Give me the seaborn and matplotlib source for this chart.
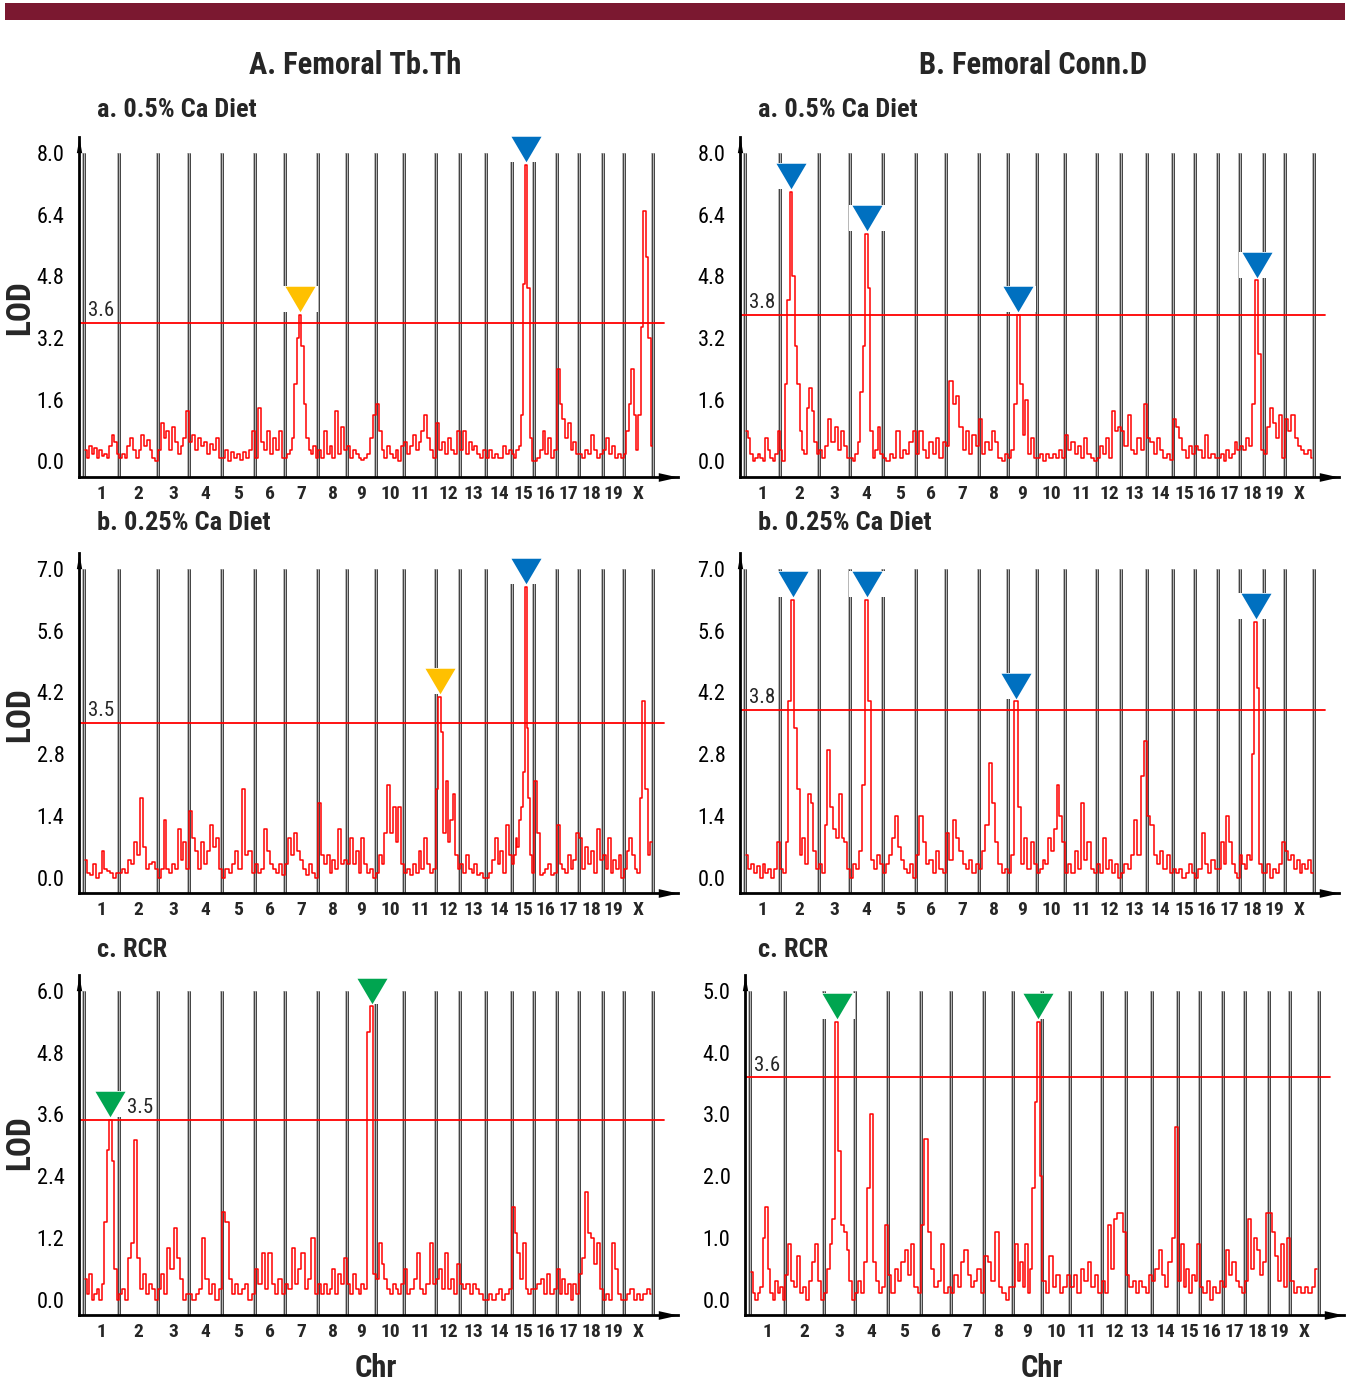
import numpy as np
import pandas as pd
import matplotlib.pyplot as plt
import matplotlib.font_manager as fm
import seaborn as sns
from matplotlib.patches import Rectangle
from matplotlib.transforms import offset_copy

sns.set_theme(style='white')


# ищем узкий шрифт, у которого есть жирное начертание
def num(v, table, default):
    return v if isinstance(v, (int, float)) else table.get(v, default)


fams = {}
for f in fm.fontManager.ttflist:
    st = num(f.stretch, fm.stretch_dict, 500)
    if 'Narrow' in f.name or 'Condensed' in f.name or st <= 400:
        fams.setdefault(f.name, set()).add(num(f.weight, fm.weight_dict, 400))
prefer = ['Liberation Sans Narrow', 'Arial Narrow', 'Roboto Condensed', 'Open Sans Condensed',
          'Noto Sans', 'Open Sans', 'Roboto', 'DejaVu Sans Condensed', 'DejaVu Sans']
good = [n for n in prefer if n in fams and max(fams[n]) >= 600]
good += sorted(n for n in fams if max(fams[n]) >= 600 and n not in good)
if good:
    FONT, K = good[0], 1.0
else:
    FONT, K = 'Liberation Sans', 0.84
plt.rcParams['font.family'] = [FONT, 'Liberation Sans', 'DejaVu Sans']
if good and 'Narrow' not in FONT and 'Condensed' not in FONT:
    plt.rcParams['font.stretch'] = 'condensed'

# хромосомы и их длины (cM, как на рисунке)
chroms = [str(i) for i in range(1, 20)] + ['X']
chrom_len = [105, 117, 93, 99, 99, 90, 99, 87, 87, 84, 96, 72, 78, 78, 66, 69, 66, 72, 63, 87]

# LOD по хромосомам
tbth_05 = [
    [0.3, 0.1, 0.4, 0.2, 0.35, 0.1, 0.3, 0.15, 0.2, 0.1, 0.4, 0.7, 0.5, 0.2],
    [0.1, 0.2, 0.1, 0.4, 0.6, 0.3, 0.1, 0.3, 0.7, 0.4, 0.55, 0.3, 0.1, 0.0],
    [0.3, 1.0, 0.6, 0.8, 0.3, 0.9, 0.5, 0.2, 0.4, 0.6, 1.3],
    [0.5, 0.7, 0.3, 0.6, 0.4, 0.5, 0.2, 0.45, 0.3, 0.6, 0.1],
    [0.1, 0.3, 0.0, 0.25, 0.1, 0.2, 0.05, 0.25, 0.1, 0.3, 0.8],
    [0.1, 1.4, 0.5, 0.3, 0.8, 0.2, 0.6, 0.3, 0.8, 0.1],
    [0.1, 0.2, 0.3, 0.6, 2.0, 3.2, 3.8, 3.0, 1.5, 0.6, 0.3, 0.2, 0.4, 0.1],
    [0.3, 0.1, 0.8, 0.2, 0.4, 0.1, 1.3, 0.2, 0.9, 0.3],
    [0.4, 0.1, 0.3, 0.2, 0.1, 0.05, 0.1, 0.2, 0.6, 1.2],
    [1.5, 0.8, 0.3, 0.1, 0.4, 0.2, 0.1, 0.3, 0.0, 0.4],
    [0.5, 0.2, 0.4, 0.7, 0.3, 0.5, 0.8, 1.2, 0.6, 0.3, 0.1],
    [1.0, 0.3, 0.5, 0.2, 0.6, 0.3, 0.2, 0.8],
    [0.3, 0.8, 0.2, 0.5, 0.3, 0.4, 0.2, 0.1, 0.3],
    [0.1, 0.3, 0.1, 0.2, 0.1, 0.1, 0.4, 0.2, 0.3],
    [0.2, 0.1, 0.3, 0.4, 1.2, 4.6, 7.7, 4.5, 0.6, 0.0],
    [0.0, 0.1, 0.3, 0.8, 0.2, 0.6, 0.1, 0.3],
    [2.4, 1.5, 1.1, 0.6, 1.0, 0.3, 0.5, 0.2],
    [0.2, 0.1, 0.3, 0.2, 0.7, 0.3, 0.1, 0.2],
    [0.3, 0.6, 0.2, 0.4, 0.1, 0.2, 0.1],
    [0.2, 0.8, 1.5, 2.4, 1.2, 0.3, 1.2, 3.5, 6.5, 5.3, 3.2, 0.4],
]

tbth_025 = [
    [0.4, 0.1, 0.05, 0.3, 0.0, 0.1, 0.6, 0.2, 0.15, 0.1, 0.0, 0.1],
    [0.1, 0.2, 0.1, 0.4, 0.3, 0.8, 0.5, 1.8, 0.7, 0.2, 0.3, 0.35, 0.2],
    [0.0, 0.2, 1.3, 0.2, 0.1, 0.3, 0.2, 1.1, 0.4, 0.8, 0.2],
    [1.5, 0.9, 0.6, 0.2, 0.8, 0.3, 0.6, 1.2, 0.7, 0.9, 0.2],
    [0.0, 0.2, 0.1, 0.3, 0.6, 0.2, 2.0, 0.5, 0.6, 0.1],
    [0.3, 0.1, 0.2, 1.1, 0.6, 0.3, 0.2, 0.1, 0.3, 0.05],
    [0.3, 0.9, 0.5, 1.0, 0.6, 0.4, 0.2, 0.05, 0.3, 0.1, 0.0],
    [1.7, 0.5, 0.3, 0.5, 0.1, 0.4, 0.2, 1.1, 0.3, 0.4],
    [0.3, 0.9, 0.3, 0.6, 0.1, 0.9, 0.3, 0.1, 0.2, 0.0],
    [0.1, 0.5, 0.3, 1.0, 2.1, 1.0, 1.6, 0.8, 1.6, 0.3],
    [0.1, 0.2, 0.05, 0.3, 0.1, 0.6, 0.2, 0.9, 0.3, 0.1, 0.2],
    [2.0, 4.1, 3.3, 1.0, 2.2, 0.8, 1.3, 1.9, 0.5, 0.2],
    [0.3, 0.1, 0.5, 0.2, 0.1, 0.3, 0.05, 0.1, 0.0],
    [0.0, 0.1, 0.4, 0.9, 0.3, 0.6, 0.1, 1.2, 0.5],
    [0.3, 0.5, 0.9, 0.7, 1.3, 1.6, 2.4, 6.6, 3.4, 1.8, 0.5, 0.1],
    [2.2, 1.0, 0.05, 0.1, 0.2, 0.3, 0.05, 0.1],
    [1.2, 0.3, 0.2, 0.1, 0.5, 0.2, 0.4, 1.0],
    [0.9, 0.2, 0.7, 0.3, 0.6, 0.1, 1.1, 0.4],
    [0.5, 0.2, 0.9, 0.1, 0.4, 0.2, 0.5, 0.0],
    [0.2, 0.6, 0.9, 0.5, 0.2, 0.1, 1.8, 4.0, 2.0, 0.5, 0.8],
]

tbth_rcr = [
    [0.4, 0.1, 0.5, 0.0, 0.1, 0.2, 0.0, 0.3, 1.5, 2.9, 3.5, 2.7, 0.6, 0.0],
    [0.1, 0.2, 0.0, 0.8, 1.1, 3.1, 0.8, 0.2, 0.5, 0.1, 0.3, 0.2, 0.0],
    [0.2, 0.5, 0.1, 1.0, 0.6, 1.4, 0.8, 0.4, 0.0, 0.1],
    [0.1, 0.0, 0.1, 0.2, 1.2, 0.4, 0.1, 0.3, 0.0, 0.2],
    [1.7, 1.5, 0.4, 0.1, 0.3, 0.1, 0.2, 0.3, 0.0, 0.1],
    [0.6, 0.3, 0.9, 0.2, 0.9, 0.3, 0.1, 0.4, 0.1],
    [0.3, 0.2, 1.0, 0.3, 0.6, 0.9, 0.2, 0.4, 1.2, 0.1],
    [0.3, 0.1, 0.3, 0.1, 0.2, 0.6, 0.1, 0.5, 0.3, 0.8],
    [0.3, 0.1, 0.5, 0.2, 0.1, 0.3, 0.2, 5.2, 5.7, 0.5],
    [0.4, 1.1, 0.7, 0.4, 0.2, 0.1, 0.3, 0.2, 0.1, 0.3],
    [0.6, 0.1, 0.2, 0.4, 0.9, 0.2, 0.1, 0.3, 1.1, 0.3],
    [0.4, 0.6, 0.2, 0.9, 0.2, 0.4, 0.1, 0.7],
    [0.3, 0.2, 0.3, 0.1, 0.3, 0.2, 0.1, 0.0],
    [0.0, 0.1, 0.0, 0.1, 0.2, 0.0, 0.1, 0.2],
    [1.8, 1.3, 0.9, 0.4, 1.1, 0.2, 0.1, 0.2],
    [0.2, 0.3, 0.4, 0.1, 0.5, 0.1, 0.2],
    [0.6, 0.1, 0.4, 0.1, 0.3, 0.0, 0.3, 0.1],
    [0.5, 0.8, 2.1, 1.3, 1.2, 0.7, 1.1, 0.2],
    [0.0, 0.1, 0.0, 1.1, 0.6, 0.1, 0.0],
    [0.0, 0.1, 0.2, 0.0, 0.1, 0.0, 0.1, 0.2, 0.1],
]

connd_05 = [
    [0.8, 0.6, 0.2, 0.0, 0.1, 0.2, 0.1, 0.0, 0.6, 0.3, 0.1, 0.0, 0.2, 0.8],
    [0.3, 0.0, 2.0, 4.2, 7.0, 4.8, 3.0, 2.0, 0.8, 0.3, 0.2, 1.4, 1.9, 1.3, 0.5, 0.2],
    [0.3, 0.1, 0.4, 1.1, 0.5, 0.9, 0.3, 0.8, 0.4, 0.1],
    [0.1, 0.0, 0.2, 0.5, 1.8, 3.0, 5.9, 4.5, 0.8, 0.1, 0.3, 0.9, 0.2],
    [0.1, 0.0, 0.2, 0.1, 0.8, 0.1, 0.3, 0.2, 0.5, 0.8],
    [0.2, 0.8, 0.3, 0.1, 0.5, 0.2, 0.6, 0.1, 0.5],
    [0.4, 2.1, 1.5, 1.7, 0.9, 0.3, 0.8, 0.2, 0.7, 0.4],
    [1.1, 0.2, 0.5, 0.3, 0.8, 0.5, 0.1, 0.0, 0.2],
    [0.1, 0.3, 1.5, 3.8, 2.0, 0.7, 1.6, 0.2, 0.6, 0.1],
    [0.1, 0.2, 0.0, 0.2, 0.1, 0.2, 0.1, 0.3, 0.1],
    [0.7, 0.3, 0.5, 0.2, 0.4, 0.1, 0.6, 0.2, 0.1, 0.0],
    [0.1, 0.4, 0.2, 0.6, 0.1, 1.3, 0.8, 0.9],
    [0.8, 0.4, 1.2, 0.3, 0.2, 0.6, 0.3, 1.5],
    [0.6, 0.5, 0.2, 0.6, 0.3, 0.1, 0.2, 0.05],
    [1.1, 0.9, 0.6, 0.3, 0.1, 0.4, 0.2],
    [0.4, 0.3, 0.1, 0.7, 0.1, 0.2, 0.1],
    [0.1, 0.2, 0.0, 0.3, 0.1, 0.2, 0.5, 0.3],
    [0.4, 0.3, 0.6, 0.4, 1.5, 4.7, 2.8, 0.3],
    [0.2, 0.9, 1.4, 1.0, 0.6, 1.2, 0.1],
    [1.1, 0.8, 1.2, 0.6, 0.4, 0.3, 0.2, 0.3, 0.1],
]

connd_025 = [
    [0.5, 0.2, 0.3, 0.1, 0.25, 0.0, 0.3, 0.1, 0.2, 0.0, 0.2, 0.8],
    [0.2, 0.1, 0.8, 4.0, 6.3, 3.4, 2.0, 0.5, 0.9, 0.3, 1.9, 1.7, 0.6, 0.2],
    [0.3, 0.1, 1.2, 2.9, 1.6, 1.1, 0.9, 1.9, 0.9, 0.8, 0.2],
    [0.0, 0.3, 0.2, 0.6, 2.1, 6.3, 4.0, 0.4, 0.2, 0.5, 0.3],
    [0.1, 0.3, 0.5, 0.9, 1.4, 0.7, 0.4, 0.2, 0.1, 0.3, 0.0],
    [0.5, 1.4, 0.8, 0.3, 0.4, 0.1, 0.6, 0.2, 0.1],
    [1.0, 0.4, 1.3, 0.9, 0.6, 0.3, 0.2, 0.4, 0.1, 0.3],
    [0.2, 0.6, 1.2, 2.6, 1.7, 0.8, 0.3, 0.1, 0.2],
    [0.1, 0.5, 4.0, 1.6, 0.3, 0.9, 0.2, 0.8, 0.3],
    [0.1, 0.2, 0.4, 0.3, 0.9, 0.6, 1.1, 2.1, 1.4, 0.8],
    [0.1, 0.3, 0.1, 0.6, 0.2, 1.7, 0.4, 0.8, 0.2, 0.1],
    [0.3, 0.1, 0.9, 0.2, 0.4, 0.1, 0.3, 0.0],
    [0.1, 0.3, 0.2, 0.5, 1.3, 0.5, 2.3, 3.1],
    [1.4, 1.2, 0.5, 0.3, 0.6, 0.2, 0.5, 0.1],
    [0.2, 0.1, 0.2, 0.0, 0.1, 0.3, 0.1],
    [0.0, 0.2, 1.0, 0.3, 0.1, 0.4, 0.2],
    [0.2, 0.8, 0.3, 1.4, 0.8, 0.3, 0.1, 0.0],
    [0.5, 0.3, 0.2, 0.5, 0.4, 2.8, 5.8, 4.3, 0.3, 0.1],
    [0.1, 0.3, 0.0, 0.2, 0.1, 0.3, 0.8],
    [0.6, 0.4, 0.5, 0.2, 0.4, 0.1, 0.3, 0.2, 0.4, 0.1],
]

connd_rcr = [
    [0.45, 0.1, 0.0, 0.1, 0.2, 1.0, 1.5, 0.5, 0.1, 0.0, 0.3, 0.1, 0.2, 0.0],
    [0.4, 0.9, 0.3, 0.2, 0.7, 0.1, 0.2, 0.0, 0.3, 0.6, 0.9, 0.3, 0.0],
    [0.1, 0.5, 0.9, 1.3, 4.5, 2.4, 1.2, 1.1, 0.8, 0.3, 0.0],
    [0.1, 0.3, 0.1, 0.6, 1.8, 3.0, 0.6, 0.3, 0.1, 0.2, 1.2],
    [0.4, 0.1, 0.5, 0.3, 0.6, 0.8, 0.4, 0.9, 0.2, 0.1],
    [1.2, 2.6, 1.1, 0.5, 0.2, 0.3, 0.9, 0.1, 0.2],
    [0.1, 0.4, 0.2, 0.6, 0.8, 0.4, 0.2, 0.3, 0.5, 0.1],
    [0.7, 0.6, 0.3, 1.1, 0.2, 0.1, 0.0, 0.2],
    [0.2, 0.9, 0.3, 0.6, 0.2, 0.9, 0.1, 0.5, 1.8, 3.2, 4.5, 2.0],
    [0.3, 0.1, 0.7, 0.2, 0.4, 0.1, 0.2, 0.4],
    [0.2, 0.4, 0.1, 0.5, 0.3, 0.6, 0.2, 0.4, 0.1],
    [0.3, 0.1, 1.2, 0.5, 1.3, 1.4, 1.4, 1.1],
    [0.4, 0.2, 0.3, 0.1, 0.3, 0.2, 0.1, 0.4],
    [0.3, 0.5, 0.8, 0.4, 0.2, 0.6, 1.0, 2.8],
    [0.3, 0.9, 0.2, 0.5, 0.1, 0.4, 0.3, 0.9],
    [0.2, 0.1, 0.3, 0.0, 0.2, 0.1, 0.3],
    [0.2, 0.8, 0.4, 0.6, 0.3, 0.2, 0.1],
    [0.3, 1.3, 0.5, 1.0, 0.8, 0.4, 0.6, 1.4],
    [1.4, 1.1, 0.7, 0.3, 0.9, 0.2, 1.0],
    [0.3, 0.1, 0.2, 0.1, 0.2, 0.1, 0.2, 0.5],
]

BLUE, ORANGE, GREEN = '#0070C0', '#FFC000', '#00A550'

# (данные, верх оси, порог, значимые пики, подпись, колонка, ряд, x подписи порога)
panels = [
    (tbth_05, 8.0, 3.6, [('7', ORANGE), ('15', BLUE)], 'a. 0.5% Ca Diet', 0, 0, 12),
    (tbth_025, 7.0, 3.5, [('12', ORANGE), ('15', BLUE)], 'b. 0.25% Ca Diet', 0, 1, 12),
    (tbth_rcr, 6.0, 3.5, [('1', GREEN), ('9', GREEN)], 'c. RCR', 0, 2, 129),
    (connd_05, 8.0, 3.8, [('2', BLUE), ('4', BLUE), ('9', BLUE), ('18', BLUE)], 'a. 0.5% Ca Diet', 1, 0, 12),
    (connd_025, 7.0, 3.8, [('2', BLUE), ('4', BLUE), ('9', BLUE), ('18', BLUE)], 'b. 0.25% Ca Diet', 1, 1, 12),
    (connd_rcr, 5.0, 3.6, [('3', GREEN), ('9', GREEN)], 'c. RCR', 1, 2, 12),
]

W, H = 1349, 1382
fig = plt.figure(figsize=(W / 100, H / 100), dpi=100)

col_left = [79, 740]
row_span = [(137, 477), (553, 893), (975, 1315)]
row_mid = [308, 715, 1143]
sub_y = [110, 523, 950]

starts = np.concatenate([[0], np.cumsum(chrom_len)])
centers = starts[:-1] + np.array(chrom_len) / 2

tri = [(-1, 0.85), (1, 0.85), (0, -0.85)]
box = [(-1.2, -0.85), (1.2, -0.85), (1.2, 0.85), (-1.2, 0.85)]
ms = 21.6

for lod, ymax, thr, peaks, sub, col, row, thr_x in panels:
    left = col_left[col] + (5 if (col == 1 and row == 2) else 0)
    top, bottom = row_span[row]
    ax = fig.add_axes([left / W, 1 - bottom / H, 599 / W, (bottom - top) / H])

    pos, vals = [], []
    for s, L, v in zip(starts[:-1], chrom_len, lod):
        n = len(v)
        pos += list(s + (np.arange(n) + 0.5) * L / n)
        vals += v
    df = pd.DataFrame({'pos': pos, 'lod': vals})

    ylo = -ymax * 15.5 / 308.5
    yhi = ymax * (1 + 16 / 308.5)
    ax.set_xlim(-15, 1782)
    ax.set_ylim(ylo, yhi)

    # границы хромосом: серая полоса с чёрными краями
    ax.vlines(starts, ylo, ymax, color='#b4b4b4', lw=2.8, zorder=1)
    ax.vlines(starts - 4.3, ylo, ymax, color='#303030', lw=0.6, zorder=1.1)
    ax.vlines(starts + 4.3, ylo, ymax, color='#303030', lw=0.6, zorder=1.1)

    ax.plot([-15, 1740], [thr, thr], color='#ff0000', lw=1.3, zorder=2)
    ax.text(thr_x, thr, f'{thr:.1f}', fontsize=15 * K, ha='left', va='bottom',
            transform=offset_copy(ax.transData, fig=fig, y=2, units='points'), zorder=6)

    sns.lineplot(data=df, x='pos', y='lod', ax=ax, color='#ff0000', lw=1.1,
                 estimator=None, sort=False, drawstyle='steps-mid', zorder=4)

    for ch, c in peaks:
        i = chroms.index(ch)
        v = lod[i]
        k = int(np.argmax(v))
        px = starts[i] + (k + 0.5) * chrom_len[i] / len(v)
        tr = offset_copy(ax.transData, fig=fig, y=0.425 * ms + 2, units='points')
        ax.plot(px, v[k], marker=box, ms=ms * 1.2, color='white', mew=0,
                transform=tr, clip_on=False, zorder=3)
        ax.plot(px, v[k], marker=tri, ms=ms, color=c, mew=0,
                transform=tr, clip_on=False, zorder=5)

    yt = np.linspace(0, ymax, 6)
    ax.set_yticks(yt)
    ax.set_yticklabels([f'{t:.1f}' for t in yt])
    ax.tick_params(axis='y', direction='inout', length=7, width=1.5, labelsize=16 * K, pad=7, colors='black')
    ax.set_xticks(centers)
    ax.set_xticklabels(chroms, fontweight='bold', fontsize=14 * K)
    ax.tick_params(axis='x', length=0, pad=6)
    ax.set_xlabel('')
    ax.set_ylabel('')

    sns.despine(ax=ax)
    for s in ['left', 'bottom']:
        ax.spines[s].set_linewidth(2)
        ax.spines[s].set_color('black')

    # стрелки на концах осей
    ax.plot(0, 1, marker=[(-0.35, -1), (0, 1), (0.35, -1)], ms=11, color='black', mew=0,
            transform=offset_copy(ax.transAxes, fig=fig, y=-5.5, units='points'), clip_on=False)
    ax.plot(1, 0, marker=[(-1, 0.45), (1, 0), (-1, -0.45)], ms=14, color='black', mew=0,
            transform=offset_copy(ax.transAxes, fig=fig, x=-7, units='points'), clip_on=False)

    fig.text((col_left[col] + 18) / W, 1 - sub_y[row] / H, sub, fontsize=19 * K,
             fontweight='bold', ha='left', va='center')
    if col == 0:
        fig.text(20 / W, 1 - row_mid[row] / H, 'LOD', rotation=90, fontsize=24 * K,
                 fontweight='bold', ha='center', va='center')

fig.add_artist(Rectangle((5 / W, 1 - 20 / H), 1340 / W, 17 / H,
                         transform=fig.transFigure, color='#7B1830', lw=0))
fig.text(355 / W, 1 - 65 / H, 'A. Femoral Tb.Th', fontsize=22 * K, fontweight='bold', ha='center', va='center')
fig.text(1033 / W, 1 - 65 / H, 'B. Femoral Conn.D', fontsize=22 * K, fontweight='bold', ha='center', va='center')
fig.text(376 / W, 1 - 1368 / H, 'Chr', fontsize=22 * K, fontweight='bold', ha='center', va='center')
fig.text(1042 / W, 1 - 1368 / H, 'Chr', fontsize=22 * K, fontweight='bold', ha='center', va='center')

fig.savefig('out.png', dpi=100)
